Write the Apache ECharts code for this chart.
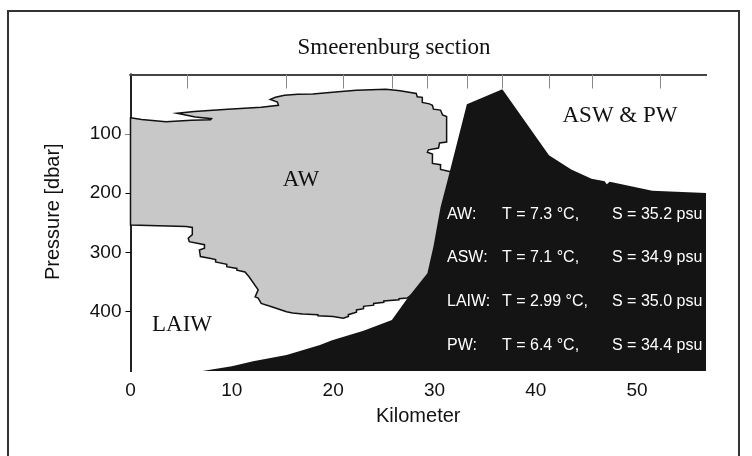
<!DOCTYPE html>
<html>
<head>
<meta charset="utf-8">
<script src="https://cdn.jsdelivr.net/npm/echarts@6/dist/echarts.min.js"></script>
<style>html,body{margin:0;padding:0;background:#fff;}#c{width:752px;height:456px;}</style>
</head>
<body>
<div id="c"></div>
<script>
// Atlantic Water (AW) region outline: kilometre / pressure (dbar)
const awKm = [0,1.1,3.5,6.0,7.9,8.0,6.4,4.6,6.3,9.6,12.9,14.6,14.5,13.8,14.3,15.2,16.5,18.0,20.5,22.3,25.2,26.6,28.2,28.3,28.8,28.8,29.5,29.8,29.9,30.6,30.8,31.2,31.2,30.5,30.4,29.4,29.3,29.8,29.8,30.6,30.6,31.5,33,33,29.5,27.3,
  26.5,26.5,25.0,25.0,24.0,24.0,23.0,23.0,22.3,22.3,21.5,21.5,21.0,20.0,18.5,18.5,17.0,16.0,15.4,14.0,12.9,12.6,12.3,12.6,11.7,11.3,10.5,10.5,9.5,9.5,8.4,8.4,7.8,6.9,6.8,7.3,7.3,5.8,5.7,6.1,6.1,5.5,0];
const awP  = [73,76,79.5,77,76.5,74.5,71.5,65.5,62.5,58.7,55.3,52,46.5,42,38.5,35,33.5,33,29,26.5,25,27.5,32,37.5,38.5,47,49.5,52,58.5,60,68,71,114,115.5,124,127,131,134,150,152,160,163.5,170,335,350,377,
  378,380,382,384,386,389,391,395,397,401,405,408,411,408,407,405,404,402,400,392,386,377,375,363,341,333,330,327,324,320,316,312,310,307,296,293,287,282,276,270,258,256.5,254];
// Sea floor / bathymetry outline
const floorKm = [7.1,10,12.1,15.4,18.7,19.9,23,25.8,27.3,29.3,29.9,30.6,31.3,33.2,36.7,41.3,43.5,45.5,46.8,47.0,47.3,51.5,56.8,56.8];
const floorP  = [500,492,483.7,473,456,448,432,414,378,335,290,224,178,50,25,136,160,176,180,185,181,196,200,500];
// CTD station positions (top ticks)
const stationKm = [5.6,15.4,21.0,25.8,29.3,33.2,36.7,41.3,45.6,52.3];
// Water mass properties
const massNames = ['AW:','ASW:','LAIW:','PW:'];
const massT = ['7.3','7.1','2.99','6.4'];
const massS = ['35.2','34.9','35.0','34.4'];
// axis
const xMax = 56.8;
const yMax = 500;

function polySeries(xs, ys, style, z) {
  const pts = xs.map((k, i) => [k, ys[i]]);
  return {
    type: 'custom', xAxisIndex: 0, yAxisIndex: 0, z: z, silent: true,
    data: pts,
    renderItem: function (params, api) {
      if (params.dataIndex !== 0) return null;
      return { type: 'polygon', shape: { points: pts.map(p => api.coord(p)) }, style: style };
    }
  };
}

const chart = echarts.init(document.getElementById('c'), null, { renderer: 'canvas' });
const infoTexts = [];
const rowY = [214.5, 258, 302, 345.5];
massNames.forEach((n, i) => {
  const f = '16px "Liberation Sans", Arial, sans-serif';
  infoTexts.push({ type: 'text', x: 447, y: rowY[i], z: 100, style: { text: n, fill: '#fff', font: f, textVerticalAlign: 'middle', verticalAlign: 'middle' } });
  infoTexts.push({ type: 'text', x: 502, y: rowY[i], z: 100, style: { text: 'T = ' + massT[i] + ' °C,', fill: '#fff', font: f, textVerticalAlign: 'middle', verticalAlign: 'middle' } });
  infoTexts.push({ type: 'text', x: 612, y: rowY[i], z: 100, style: { text: 'S = ' + massS[i] + ' psu', fill: '#fff', font: f, textVerticalAlign: 'middle', verticalAlign: 'middle' } });
});
const serif = '23px "Liberation Serif", "Times New Roman", serif';
function ctext(t, x, y) {
  return { type: 'text', x: x, y: y, z: 100, style: { text: t, fill: '#111', font: serif, textAlign: 'center', align: 'center', textVerticalAlign: 'middle', verticalAlign: 'middle' } };
}

chart.setOption({
  animation: false,
  backgroundColor: '#fff',
  grid: { left: 130.5, right: 46, top: 74.5, bottom: 85, containLabel: false },
  xAxis: [{
    type: 'value', position: 'bottom', min: 0, max: xMax, interval: 10,
    name: 'Kilometer', nameLocation: 'middle', nameGap: 35,
    nameTextStyle: { fontSize: 20, color: '#111', fontFamily: '"Liberation Sans", Arial, sans-serif' },
    axisLine: { show: true, lineStyle: { color: '#000', width: 2 } },
    axisTick: { show: false },
    axisLabel: { fontSize: 19, color: '#111', margin: 10, showMaxLabel: false, fontFamily: '"Liberation Sans", Arial, sans-serif' },
    splitLine: { show: false }
  }, {
    type: 'value', position: 'top', min: 0, max: xMax,
    axisLine: { show: true, lineStyle: { color: '#444', width: 2 } },
    axisTick: { show: true, inside: true, length: 14, customValues: stationKm, lineStyle: { color: '#888', width: 1 } },
    axisLabel: { show: false }, splitLine: { show: false }
  }],
  yAxis: [{
    type: 'value', inverse: true, min: 0, max: yMax, interval: 100,
    name: 'Pressure [dbar]', nameLocation: 'middle', nameGap: 67,
    nameTextStyle: { fontSize: 20, color: '#111', fontFamily: '"Liberation Sans", Arial, sans-serif', padding: [0, 0, 0, 22] },
    axisLine: { show: true, lineStyle: { color: '#000', width: 2 } },
    axisTick: { show: true, inside: false, length: 5, lineStyle: { color: '#000', width: 1 } },
    axisLabel: { fontSize: 19, color: '#111', margin: 9, showMinLabel: false, showMaxLabel: false, fontFamily: '"Liberation Sans", Arial, sans-serif' },
    splitLine: { show: false }
  }, {
    type: 'value', position: 'right', inverse: true, min: 0, max: yMax,
    axisLine: { show: true, lineStyle: { color: '#222', width: 2 } },
    axisTick: { show: true, inside: true, length: 5, customValues: [100], lineStyle: { color: '#888' } },
    axisLabel: { show: false }, splitLine: { show: false }
  }],
  series: [
    polySeries(awKm, awP, { fill: '#c8c8c8', stroke: '#111', lineWidth: 1.5, lineJoin: 'miter' }, 2),
    polySeries(floorKm, floorP, { fill: '#141414', stroke: null }, 3)
  ],
  graphic: [
    { type: 'polyline', z: 100, shape: { points: [[8, 470], [8, 11], [739, 11], [739, 470]] }, style: { stroke: '#333', lineWidth: 2, fill: null } },
    { type: 'text', x: 394, y: 48, z: 100, style: { text: 'Smeerenburg section', fill: '#111', font: serif, textAlign: 'center', align: 'center', textVerticalAlign: 'middle', verticalAlign: 'middle' } },
    ctext('AW', 301, 180),
    ctext('LAIW', 182, 325),
    ctext('ASW & PW', 620, 116)
  ].concat(infoTexts)
});
</script>
</body>
</html>
